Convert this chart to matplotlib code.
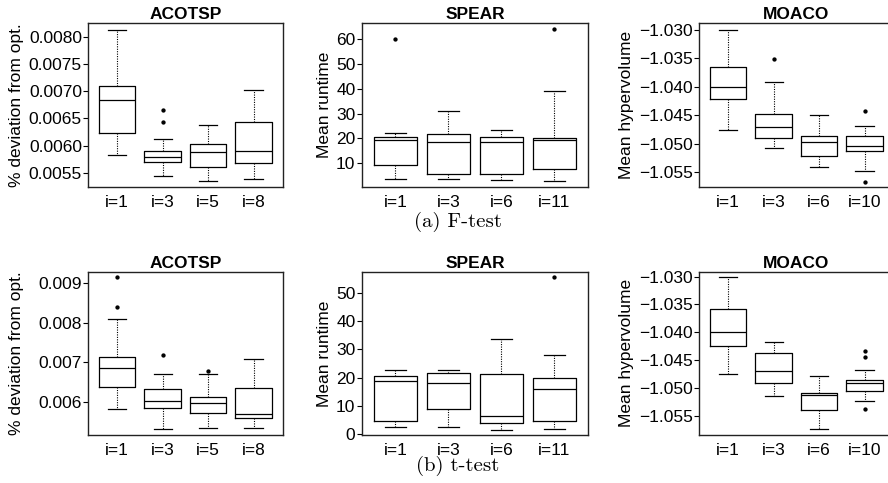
import numpy as np
import matplotlib
matplotlib.use('Agg')
import matplotlib.pyplot as plt

plt.rcParams['font.family'] = ['Liberation Sans', 'DejaVu Sans']

# ---- (a) F-test ----
f_acotsp_labels = ["i=1", "i=3", "i=5", "i=8"]
f_acotsp_whislo = [0.00583, 0.00545, 0.00535, 0.00539]
f_acotsp_q1 = [0.00623, 0.00570, 0.00561, 0.00568]
f_acotsp_med = [0.00683, 0.00580, 0.00588, 0.00590]
f_acotsp_q3 = [0.00710, 0.00591, 0.00604, 0.00643]
f_acotsp_whishi = [0.00813, 0.00613, 0.00638, 0.00702]
f_acotsp_fliers = [[], [0.00666, 0.00644], [], []]
f_acotsp_ticks = [0.0055, 0.0060, 0.0065, 0.0070, 0.0075, 0.0080]
f_acotsp_ylim = [0.005238, 0.008244]

f_spear_labels = ["i=1", "i=3", "i=6", "i=11"]
f_spear_whislo = [3.7, 3.4, 3.3, 2.7]
f_spear_q1 = [9.2, 5.6, 5.4, 7.8]
f_spear_med = [19.4, 18.5, 18.7, 19.4]
f_spear_q3 = [20.5, 21.7, 20.5, 20.3]
f_spear_whishi = [22.0, 31.2, 23.3, 39.0]
f_spear_fliers = [[60.1], [], [], [64.0]]
f_spear_ticks = [10, 20, 30, 40, 50, 60]
f_spear_ylim = [0.2, 66.5]

f_moaco_labels = ["i=1", "i=3", "i=6", "i=10"]
f_moaco_whislo = [-1.04753, -1.05082, -1.05400, -1.05482]
f_moaco_q1 = [-1.04212, -1.04894, -1.05218, -1.05129]
f_moaco_med = [-1.04000, -1.04706, -1.04976, -1.05041]
f_moaco_q3 = [-1.03653, -1.04471, -1.04865, -1.04871]
f_moaco_whishi = [-1.03000, -1.03912, -1.04488, -1.04694]
f_moaco_fliers = [[], [-1.03518], [], [-1.04418, -1.05676]]
f_moaco_ticks = [-1.055, -1.050, -1.045, -1.040, -1.035, -1.030]
f_moaco_ylim = [-1.05765, -1.02882]

# ---- (b) t-test ----
t_acotsp_labels = ["i=1", "i=3", "i=5", "i=8"]
t_acotsp_whislo = [0.005813, 0.005298, 0.005331, 0.005331]
t_acotsp_q1 = [0.006380, 0.005847, 0.005703, 0.005577]
t_acotsp_med = [0.006844, 0.006025, 0.005974, 0.005678]
t_acotsp_q3 = [0.007140, 0.006312, 0.006117, 0.006337]
t_acotsp_whishi = [0.008087, 0.006709, 0.006692, 0.007090]
t_acotsp_fliers = [[0.009152, 0.008400], [0.007183], [0.006768], []]
t_acotsp_ticks = [0.006, 0.007, 0.008, 0.009]
t_acotsp_ylim = [0.005154, 0.009296]

t_spear_labels = ["i=1", "i=3", "i=6", "i=11"]
t_spear_whislo = [2.6, 2.5, 1.6, 1.8]
t_spear_q1 = [4.8, 8.8, 4.0, 4.8]
t_spear_med = [18.8, 18.2, 6.6, 16.1]
t_spear_q3 = [20.7, 21.8, 21.4, 19.8]
t_spear_whishi = [22.8, 22.6, 33.8, 28.1]
t_spear_fliers = [[], [], [], [55.4]]
t_spear_ticks = [0, 10, 20, 30, 40, 50]
t_spear_ylim = [-0.24, 57.4]

t_moaco_labels = ["i=1", "i=3", "i=6", "i=10"]
t_moaco_whislo = [-1.04753, -1.05145, -1.05747, -1.05241]
t_moaco_q1 = [-1.04241, -1.04916, -1.05404, -1.05066]
t_moaco_med = [-1.03988, -1.04693, -1.05133, -1.04922]
t_moaco_q3 = [-1.03590, -1.04380, -1.05090, -1.04861]
t_moaco_whishi = [-1.03000, -1.04181, -1.04789, -1.04675]
t_moaco_fliers = [[], [], [], [-1.04343, -1.04452, -1.05386]]
t_moaco_ticks = [-1.055, -1.050, -1.045, -1.040, -1.035, -1.030]
t_moaco_ylim = [-1.05849, -1.02910]

W, H = 888, 483
FS = 12.5


def px_rect(left, top, right, bottom):
    return [left / W, 1 - bottom / H, (right - left) / W, (bottom - top) / H]


def draw_panel(ax, labels, whislo, q1, med, q3, whishi, fliers,
               ticks, fmt, ylim, title, ylabel, ylabel_x):
    stats = []
    for i in range(len(labels)):
        stats.append({'label': labels[i], 'whislo': whislo[i], 'q1': q1[i],
                      'med': med[i], 'q3': q3[i], 'whishi': whishi[i],
                      'fliers': fliers[i]})
    ax.bxp(stats, positions=np.arange(1, len(labels) + 1), widths=0.8,
           boxprops=dict(color='black', linewidth=0.9),
           medianprops=dict(color='black', linewidth=0.9),
           whiskerprops=dict(color='black', linewidth=0.8, linestyle=(0, (1, 1.2))),
           capprops=dict(color='black', linewidth=0.9),
           flierprops=dict(marker='o', markersize=2.1, markerfacecolor='black',
                           markeredgecolor='black', linestyle='none'))
    ax.set_xlim(0.36, len(labels) + 0.64)
    ax.set_ylim(ylim)
    ax.set_yticks(ticks)
    ax.set_yticklabels([(fmt % t).replace('-', '\u2212') for t in ticks])
    ax.tick_params(axis='x', length=0, pad=5.5, labelsize=FS)
    ax.tick_params(axis='y', length=3.6, width=0.8, pad=0.8, labelsize=FS)
    for s in ax.spines.values():
        s.set_linewidth(1.0)
        s.set_color('#222222')
    ax.set_title(title, fontsize=FS, fontweight='bold', pad=3)
    ax.set_ylabel(ylabel, fontsize=FS, va='center')
    ax.yaxis.set_label_coords(ylabel_x, 0.5)


fig = plt.figure(figsize=(W / 100, H / 100), dpi=100)

cols = [(88, 282.7, 16.7), (361.5, 588.3, 324.5), (699, 893.7, 626.7)]
rows = [(23.3, 187.3), (271.7, 435)]

panels = [
    [(f_acotsp_labels, f_acotsp_whislo, f_acotsp_q1, f_acotsp_med, f_acotsp_q3,
      f_acotsp_whishi, f_acotsp_fliers, f_acotsp_ticks, '%.4f', f_acotsp_ylim,
      'ACOTSP', '% deviation from opt.'),
     (f_spear_labels, f_spear_whislo, f_spear_q1, f_spear_med, f_spear_q3,
      f_spear_whishi, f_spear_fliers, f_spear_ticks, '%d', f_spear_ylim,
      'SPEAR', 'Mean runtime'),
     (f_moaco_labels, f_moaco_whislo, f_moaco_q1, f_moaco_med, f_moaco_q3,
      f_moaco_whishi, f_moaco_fliers, f_moaco_ticks, '%.3f', f_moaco_ylim,
      'MOACO', 'Mean hypervolume')],
    [(t_acotsp_labels, t_acotsp_whislo, t_acotsp_q1, t_acotsp_med, t_acotsp_q3,
      t_acotsp_whishi, t_acotsp_fliers, t_acotsp_ticks, '%.3f', t_acotsp_ylim,
      'ACOTSP', '% deviation from opt.'),
     (t_spear_labels, t_spear_whislo, t_spear_q1, t_spear_med, t_spear_q3,
      t_spear_whishi, t_spear_fliers, t_spear_ticks, '%d', t_spear_ylim,
      'SPEAR', 'Mean runtime'),
     (t_moaco_labels, t_moaco_whislo, t_moaco_q1, t_moaco_med, t_moaco_q3,
      t_moaco_whishi, t_moaco_fliers, t_moaco_ticks, '%.3f', t_moaco_ylim,
      'MOACO', 'Mean hypervolume')],
]

for r, (top, bottom) in enumerate(rows):
    for c, (left, right, lab_x) in enumerate(cols):
        ax = fig.add_axes(px_rect(left, top, right, bottom))
        p = panels[r][c]
        draw_panel(ax, *p, ylabel_x=(lab_x - left) / (right - left))

cap_font = ['cmr10', 'DejaVu Serif']
fig.text(457.5 / W, 1 - 227 / H, '(a) F-test', family=cap_font, fontsize=15,
         ha='center', va='baseline')
fig.text(457.5 / W, 1 - 471 / H, '(b) t-test', family=cap_font, fontsize=15,
         ha='center', va='baseline')

fig.savefig('out.png', dpi=100)
